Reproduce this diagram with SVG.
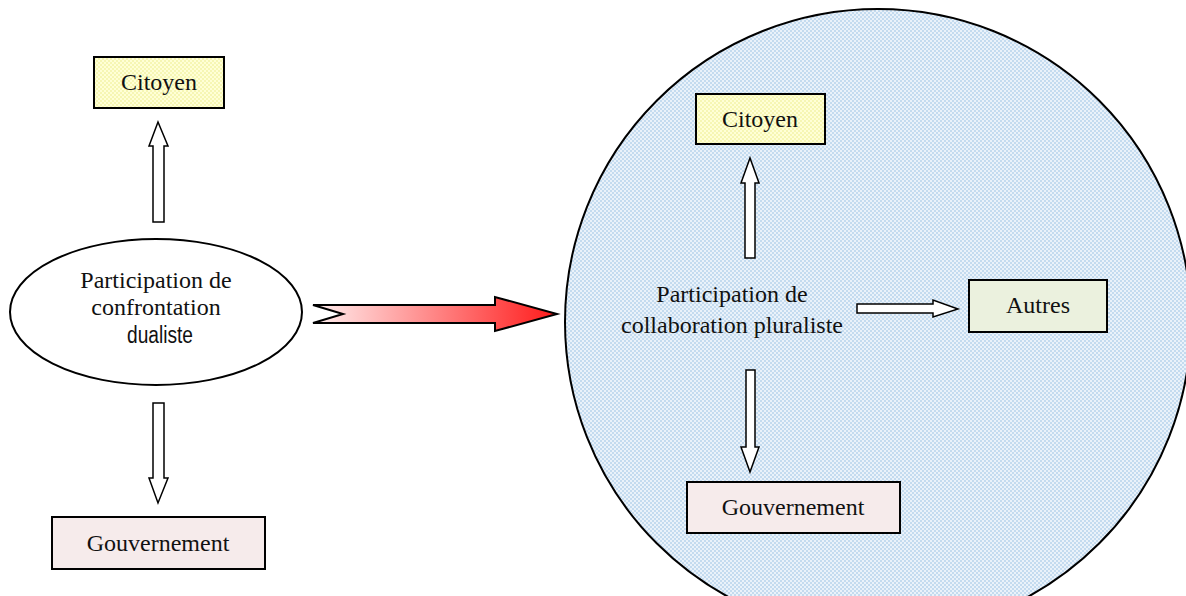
<svg xmlns="http://www.w3.org/2000/svg" width="1186" height="596" viewBox="0 0 1186 596">
  <defs>
    <!-- dotted fills -->
    <pattern id="dotsBlue" width="4" height="4" patternUnits="userSpaceOnUse">
      <rect width="4" height="4" fill="#eaf2fa"/>
      <rect x="0" y="0" width="2" height="2" fill="#c4dbef"/>
      <rect x="2" y="2" width="2" height="2" fill="#c4dbef"/>
    </pattern>
    <pattern id="dotsYellow" width="4" height="4" patternUnits="userSpaceOnUse">
      <rect width="4" height="4" fill="#ffffd6"/>
      <rect x="0" y="0" width="2" height="2" fill="#f6f6b4"/>
      <rect x="2" y="2" width="2" height="2" fill="#f6f6b4"/>
    </pattern>
    <linearGradient id="redFade" x1="0" y1="0" x2="1" y2="0">
      <stop offset="0" stop-color="#fff0f0"/>
      <stop offset="1" stop-color="#ff1a1a"/>
    </linearGradient>
    <style>
      .box { stroke: #000; stroke-width: 2; }
      .yellow { fill: url(#dotsYellow); }
      .pink { fill: #f6ebeb; }
      .green { fill: #ebf1de; }
      .arrow { fill: #fff; stroke: #000; stroke-width: 1.5; stroke-linejoin: miter; }
      .serif { font-family: "Liberation Serif", "Times New Roman", serif; font-size: 24px; fill: #111; text-anchor: middle; }
      .sans { font-family: "Liberation Sans", Arial, sans-serif; font-size: 23px; fill: #111; text-anchor: middle; }
    </style>
  </defs>

  <rect width="1186" height="596" fill="#fff"/>

  <!-- collaborative sphere -->
  <g id="sphere">
    <circle cx="878" cy="322" r="313" fill="url(#dotsBlue)" stroke="#000" stroke-width="2"/>
  </g>

  <!-- connectors -->
  <g id="connectors">
    <!-- left side -->
    <path class="arrow" d="M153,222 V146 H149 L158,122 L168,146 H164 V222 Z"/>
    <path class="arrow" d="M153,403 V478 H149 L158,503 L168,478 H164 V403 Z"/>
    <!-- transition arrow -->
    <path d="M313,305 H495 V297 L557,314 L495,331 V323 H313 L343,314 Z" fill="url(#redFade)" stroke="#000" stroke-width="2" stroke-linejoin="miter"/>
    <!-- right side -->
    <path class="arrow" d="M745,258 V183 H741 L750,158 L759,183 H755 V258 Z"/>
    <path class="arrow" d="M746,370 V447 H741 L750,472 L759,447 H755 V370 Z"/>
    <path class="arrow" d="M857,304 H933 V300 L958,309 L933,317 V313 H857 Z"/>
  </g>

  <!-- confrontation model -->
  <g id="citoyen-left">
    <rect class="box yellow" x="94" y="57" width="130" height="51"/>
    <text class="serif" x="159" y="90">Citoyen</text>
  </g>
  <g id="confrontation">
    <ellipse cx="156" cy="312" rx="146" ry="73" fill="#fff" stroke="#000" stroke-width="2"/>
    <text class="serif" x="156" y="288">Participation de</text>
    <text class="serif" x="156" y="315">confrontation</text>
    <text class="sans" x="160" y="343" textLength="66" lengthAdjust="spacingAndGlyphs">dualiste</text>
  </g>
  <g id="gouvernement-left">
    <rect class="box pink" x="52" y="517" width="213" height="52"/>
    <text class="serif" x="158" y="551">Gouvernement</text>
  </g>

  <!-- collaboration model -->
  <g id="citoyen-right">
    <rect class="box yellow" x="696" y="94" width="129" height="50"/>
    <text class="serif" x="760" y="127">Citoyen</text>
  </g>
  <g id="collaboration">
    <text class="serif" x="732" y="302">Participation de</text>
    <text class="serif" x="732" y="333">collaboration pluraliste</text>
  </g>
  <g id="autres">
    <rect class="box green" x="969" y="280" width="138" height="52"/>
    <text class="serif" x="1038" y="313">Autres</text>
  </g>
  <g id="gouvernement-right">
    <rect class="box pink" x="687" y="482" width="213" height="51"/>
    <text class="serif" x="793" y="515">Gouvernement</text>
  </g>
</svg>
